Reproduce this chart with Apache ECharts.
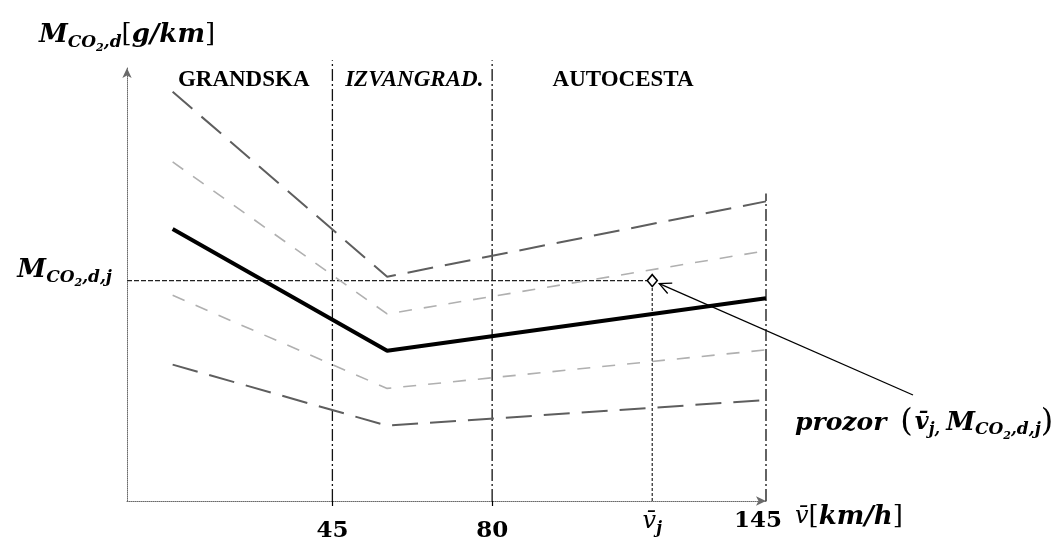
<!DOCTYPE html>
<html>
<head>
<meta charset="utf-8">
<script src="https://cdn.jsdelivr.net/npm/echarts@6/dist/echarts.min.js"></script>
<style>
  html, body { margin: 0; padding: 0; background: #fff; }
  #chart { width: 1053px; height: 543px; }
</style>
</head>
<body>
<div id="chart"></div>
<script>
// Speed zones (km/h) and their names
const zoneBounds = [0, 45, 80, 145];
const zoneNames = ['GRANDSKA', 'IZVANGRAD.', 'AUTOCESTA'];

// Speeds at which the emission curves are given: start, minimum, end
const curveSpeeds = [10, 57, 145];

// Emission curves M_CO2,d (relative g/km scale), from top to bottom
const curveUpper2 = [94.5, 51.8, 69.2];
const curveUpper1 = [78.3, 43.2, 57.8];
const curveMean   = [62.8, 34.7, 46.8];
const curveLower1 = [47.5, 26.0, 34.9];
const curveLower2 = [31.5, 17.4, 23.3];

// Window point (v̄j, M_CO2,d,j)
const windowSpeed = 118;
const windowEmission = 50.9;

// Speed tick labels
const xTickSpeeds = [45, 80, 145];
const xTickLabels = ['45', '80', '145'];

// The speed axis is to scale up to 80 km/h and compressed above it.
const scaleSpeeds = [0, 80, 145];
const scalePositions = [0, 80, 140];
function toAxis(v) {
  for (let i = 1; i < scaleSpeeds.length; i++) {
    if (v <= scaleSpeeds[i]) {
      const t = (v - scaleSpeeds[i - 1]) / (scaleSpeeds[i] - scaleSpeeds[i - 1]);
      return scalePositions[i - 1] + t * (scalePositions[i] - scalePositions[i - 1]);
    }
  }
  return scalePositions[scalePositions.length - 1];
}

const MATH = 'DejaVu Serif';
const TEXT = 'Liberation Serif';
const mathRich = {
  big:  { fontFamily: MATH, fontSize: 26, fontWeight: 'bold', fontStyle: 'italic', color: '#000', lineHeight: 34 },
  br:   { fontFamily: MATH, fontSize: 26, fontWeight: 'normal', color: '#000', lineHeight: 34 },
  sub:  { fontFamily: MATH, fontSize: 17, fontWeight: 'bold', fontStyle: 'italic', color: '#000', padding: [14, 0, 0, 0] },
  sub2: { fontFamily: MATH, fontSize: 11, fontWeight: 'bold', fontStyle: 'italic', color: '#000', padding: [26, 0, 0, 0] },
  par:  { fontFamily: MATH, fontSize: 32, fontWeight: 'normal', color: '#000', lineHeight: 40, padding: [0, 2, 0, 14] },
  parR: { fontFamily: MATH, fontSize: 32, fontWeight: 'normal', color: '#000', lineHeight: 40 },
  pz:   { fontFamily: MATH, fontSize: 25, fontWeight: 'bold', fontStyle: 'italic', color: '#000', lineHeight: 34 },
  num:  { fontFamily: MATH, fontSize: 23, fontWeight: 'bold', color: '#000', padding: [13, 0, 0, 0] },
  numR: { fontFamily: MATH, fontSize: 23, fontWeight: 'bold', color: '#000', padding: [3, 16, 0, 0] },
  vj:   { fontFamily: MATH, fontSize: 24, fontWeight: 'normal', fontStyle: 'italic', color: '#000' },
  vjb:  { fontFamily: MATH, fontSize: 24, fontWeight: 'bold', fontStyle: 'italic', color: '#000' },
  vjs:  { fontFamily: MATH, fontSize: 16, fontWeight: 'bold', fontStyle: 'italic', color: '#000', padding: [14, 0, 0, 0] },
  mj:   { fontFamily: MATH, fontSize: 26, fontWeight: 'bold', fontStyle: 'italic', color: '#000', lineHeight: 34, padding: [0, 0, 0, 6] }
};

const curve = (vals) => curveSpeeds.map((v, i) => [toAxis(v), vals[i]]);
const curveSeries = (name, vals, style) => ({
  name, type: 'line', data: curve(vals), symbol: 'none', silent: true, z: 3,
  lineStyle: style
});

const longDash  = { color: '#5e5e5e', width: 2, type: [26, 12] };
const shortDash = { color: '#b0b0b0', width: 1.6, type: [13, 12] };

// Zone boundary lines (45 and 80 reach above the plot top, 145 stops lower)
const zoneLineTop = [101.8, 101.8, 71.0];
const zoneLines = xTickSpeeds.map((v, i) => ({
  type: 'line', silent: true, clip: false, symbol: 'none', z: 2,
  data: [[toAxis(v), 0], [toAxis(v), zoneLineTop[i]]],
  lineStyle: { color: '#111', width: 1.3, type: [12, 3, 2, 3] }
}));

// Zone names centred in each zone
const zoneLabelLevel = 97.3;
const zoneLabelShift = [14, 2, -6];
const zoneLabelData = zoneNames.map((n, i) => ({
  value: [(toAxis(zoneBounds[i]) + toAxis(zoneBounds[i + 1])) / 2, zoneLabelLevel],
  label: {
    show: true, formatter: n, position: 'inside', offset: [zoneLabelShift[i], 0],
    fontFamily: TEXT, fontSize: 23, fontWeight: 'bold', opacity: 1,
    fontStyle: i === 1 ? 'italic' : 'normal', color: '#000', textBorderWidth: 0
  }
}));

const xLabelValues = xTickSpeeds.map(toAxis).concat([toAxis(windowSpeed)]);
function xLabel(val) {
  const idx = xLabelValues.findIndex(p => Math.abs(p - val) < 1e-6);
  if (idx < 0) return '';
  if (idx === 3) return '{vj|v\u0304}{vjs|j}';
  return idx === 2 ? '{numR|' + xTickLabels[idx] + '}' : '{num|' + xTickLabels[idx] + '}';
}

const chart = echarts.init(document.getElementById('chart'));
chart.setOption({
  animation: false,
  backgroundColor: '#fff',
  grid: { left: 127, right: 287, top: 68, bottom: 37, containLabel: false },
  xAxis: {
    type: 'value', min: 0, max: 140,
    splitLine: { show: false },
    axisLine: { show: true, symbol: ['none', 'arrow'], symbolSize: [7, 10],
      lineStyle: { color: '#6a6a6a', width: 1, type: 'dotted' } },
    axisTick: { show: true, customValues: [toAxis(45), toAxis(80)], length: 5,
      lineStyle: { color: '#000', width: 1.2 } },
    axisLabel: { show: true, customValues: xLabelValues, formatter: xLabel, margin: 6, rich: mathRich },
    name: '{vj|v\u0304}{br|[}{big|km/h}{br|]}',
    nameLocation: 'end', nameGap: 29,
    nameTextStyle: { rich: mathRich, padding: [32, 0, 0, 0] }
  },
  yAxis: {
    type: 'value', min: 0, max: 100,
    splitLine: { show: false },
    axisLine: { show: true, symbol: ['none', 'arrow'], symbolSize: [7, 10],
      lineStyle: { color: '#6a6a6a', width: 1, type: 'dotted' } },
    axisTick: { show: false },
    axisLabel: { show: true, customValues: [windowEmission], margin: 15,
      formatter: () => '{big|M}{sub|CO}{sub2|2}{sub|,d,j}', rich: mathRich, padding: [0, 0, 20, 0] },
    name: '{big|M}{sub|CO}{sub2|2}{sub|,d}{br|[}{big|g/km}{br|]}',
    nameLocation: 'end', nameGap: 14,
    nameTextStyle: { rich: mathRich, align: 'center' }
  },
  series: [
    curveSeries('upper2', curveUpper2, longDash),
    curveSeries('upper1', curveUpper1, shortDash),
    curveSeries('mean', curveMean, { color: '#000', width: 4 }),
    curveSeries('lower1', curveLower1, shortDash),
    curveSeries('lower2', curveLower2, longDash),
    ...zoneLines,
    {
      type: 'line', silent: true, symbol: 'none', z: 2,
      data: [[0, windowEmission], [toAxis(windowSpeed), windowEmission]],
      lineStyle: { color: '#222', width: 1.3, type: [5, 2] }
    },
    {
      type: 'line', silent: true, symbol: 'none', z: 2,
      data: [[toAxis(windowSpeed), 0], [toAxis(windowSpeed), windowEmission]],
      lineStyle: { color: '#333', width: 1.3, type: [3, 2] }
    },
    {
      type: 'scatter', silent: true, z: 5,
      data: [[toAxis(windowSpeed), windowEmission]],
      symbol: 'diamond', symbolSize: [10, 12],
      itemStyle: { color: '#fff', borderColor: '#000', borderWidth: 1.6, opacity: 1 }
    },
    {
      type: 'scatter', silent: true, symbolSize: 0, z: 6,
      itemStyle: { opacity: 1 },
      data: zoneLabelData
    }
  ]
});

// Leader arrow from the "prozor" note to the window point
const p = chart.convertToPixel({ gridIndex: 0 }, [toAxis(windowSpeed), windowEmission]);
const tip = [p[0] + 7, p[1] + 3];
const tail = [913, 395];
const dx = tail[0] - tip[0], dy = tail[1] - tip[1];
const len = Math.hypot(dx, dy);
const ux = dx / len, uy = dy / len;
const wing = (ang) => {
  const c = Math.cos(ang), s = Math.sin(ang);
  return [tip[0] + 13 * (ux * c - uy * s), tip[1] + 13 * (ux * s + uy * c)];
};
chart.setOption({
  graphic: [
    { type: 'line', silent: true, shape: { x1: tip[0], y1: tip[1], x2: tail[0], y2: tail[1] },
      style: { stroke: '#000', lineWidth: 1.3 } },
    { type: 'polyline', silent: true, shape: { points: [wing(0.45), tip, wing(-0.45)] },
      style: { stroke: '#000', lineWidth: 1.3, fill: null } },
    { type: 'text', silent: true, left: 795, top: 407,
      style: { text: '{pz|prozor}{par|(}{vjb|v\u0304}{vjs|j,}{mj|M}{sub|CO}{sub2|2}{sub|,d,j}{parR|)}',
        rich: mathRich } }
  ]
});
</script>
</body>
</html>
